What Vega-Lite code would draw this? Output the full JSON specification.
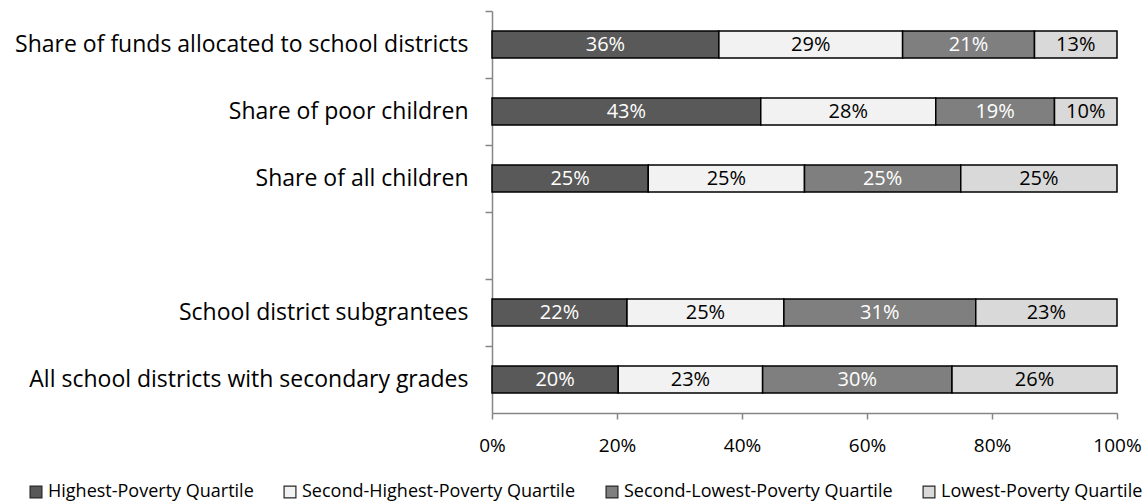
{
  "$schema": "https://vega.github.io/schema/vega-lite/v6.json",
  "autosize": "none",
  "width": 625,
  "height": 402,
  "padding": {"left": 492, "top": 11, "right": 31, "bottom": 91},
  "background": "white",
  "config": {
    "font": "Open Sans",
    "view": {"stroke": null}
  },
  "data": {
    "values": [
      {"category": "Share of funds allocated to school districts", "quartile": "Highest-Poverty Quartile", "order": 1, "value": 0.363},
      {"category": "Share of funds allocated to school districts", "quartile": "Second-Highest-Poverty Quartile", "order": 2, "value": 0.294},
      {"category": "Share of funds allocated to school districts", "quartile": "Second-Lowest-Poverty Quartile", "order": 3, "value": 0.211},
      {"category": "Share of funds allocated to school districts", "quartile": "Lowest-Poverty Quartile", "order": 4, "value": 0.132},
      {"category": "Share of poor children", "quartile": "Highest-Poverty Quartile", "order": 1, "value": 0.43},
      {"category": "Share of poor children", "quartile": "Second-Highest-Poverty Quartile", "order": 2, "value": 0.28},
      {"category": "Share of poor children", "quartile": "Second-Lowest-Poverty Quartile", "order": 3, "value": 0.19},
      {"category": "Share of poor children", "quartile": "Lowest-Poverty Quartile", "order": 4, "value": 0.10},
      {"category": "Share of all children", "quartile": "Highest-Poverty Quartile", "order": 1, "value": 0.25},
      {"category": "Share of all children", "quartile": "Second-Highest-Poverty Quartile", "order": 2, "value": 0.25},
      {"category": "Share of all children", "quartile": "Second-Lowest-Poverty Quartile", "order": 3, "value": 0.25},
      {"category": "Share of all children", "quartile": "Lowest-Poverty Quartile", "order": 4, "value": 0.25},
      {"category": "School district subgrantees", "quartile": "Highest-Poverty Quartile", "order": 1, "value": 0.216},
      {"category": "School district subgrantees", "quartile": "Second-Highest-Poverty Quartile", "order": 2, "value": 0.251},
      {"category": "School district subgrantees", "quartile": "Second-Lowest-Poverty Quartile", "order": 3, "value": 0.307},
      {"category": "School district subgrantees", "quartile": "Lowest-Poverty Quartile", "order": 4, "value": 0.226},
      {"category": "All school districts with secondary grades", "quartile": "Highest-Poverty Quartile", "order": 1, "value": 0.202},
      {"category": "All school districts with secondary grades", "quartile": "Second-Highest-Poverty Quartile", "order": 2, "value": 0.231},
      {"category": "All school districts with secondary grades", "quartile": "Second-Lowest-Poverty Quartile", "order": 3, "value": 0.303},
      {"category": "All school districts with secondary grades", "quartile": "Lowest-Poverty Quartile", "order": 4, "value": 0.264}
    ]
  },
  "transform": [
    {"stack": "value", "groupby": ["category"], "sort": [{"field": "order", "order": "ascending"}], "as": ["x0", "x1"]},
    {"calculate": "(datum.x0 + datum.x1) / 2", "as": "mid"}
  ],
  "encoding": {
    "y": {
      "field": "category",
      "type": "nominal",
      "title": null,
      "sort": null,
      "scale": {
        "domain": ["Share of funds allocated to school districts", "Share of poor children", "Share of all children", " ", "School district subgrantees", "All school districts with secondary grades"],
        "paddingInner": 0.6,
        "paddingOuter": 0.3
      },
      "axis": {
        "tickBand": "center",
        "tickOffset": -33.5,
        "labelOffset": 33.5,
        "domainColor": "#868686",
        "tickColor": "#868686",
        "tickSize": 7,
        "labelFontSize": 23,
        "labelColor": "black",
        "labelPadding": 17,
        "labelLimit": 600,
        "domainWidth": 1.5,
        "tickWidth": 1.5
      }
    }
  },
  "layer": [
    {
      "mark": {"type": "bar", "stroke": "black", "strokeWidth": 1.5},
      "encoding": {
        "x": {
          "field": "x0",
          "type": "quantitative",
          "title": null,
          "scale": {"domain": [0, 1], "nice": false},
          "axis": {
            "values": [0, 0.2, 0.4, 0.6, 0.8, 1],
            "format": ".0%",
            "grid": false,
            "domainColor": "#868686",
            "tickColor": "#868686",
            "tickSize": 6,
            "domainWidth": 1.5,
            "tickWidth": 1.5,
            "labelFontSize": 19,
            "labelColor": "black",
            "labelPadding": 17,
            "labelFlush": false
          }
        },
        "x2": {"field": "x1"},
        "color": {
          "field": "quartile",
          "type": "nominal",
          "title": null,
          "scale": {
            "domain": ["Highest-Poverty Quartile", "Second-Highest-Poverty Quartile", "Second-Lowest-Poverty Quartile", "Lowest-Poverty Quartile"],
            "range": ["#595959", "#F2F2F2", "#7F7F7F", "#D9D9D9"]
          },
          "legend": {
            "orient": "none",
            "direction": "horizontal",
            "legendX": -465,
            "legendY": 472,
            "columns": 4,
            "symbolType": "square",
            "symbolSize": 140,
            "symbolStrokeColor": "#262626",
            "symbolStrokeWidth": 1.2,
            "symbolOpacity": 1,
            "labelFontSize": 18,
            "labelColor": "black",
            "labelOffset": 3,
            "columnPadding": 27,
            "labelLimit": 400
          }
        }
      }
    },
    {
      "mark": {"type": "text", "fontSize": 20, "align": "center", "baseline": "middle"},
      "encoding": {
        "x": {"field": "mid", "type": "quantitative"},
        "text": {"field": "value", "type": "quantitative", "format": ".0%"},
        "color": {
          "condition": {"test": "datum.quartile === 'Highest-Poverty Quartile' || datum.quartile === 'Second-Lowest-Poverty Quartile'", "value": "white"},
          "value": "black"
        }
      }
    }
  ]
}
